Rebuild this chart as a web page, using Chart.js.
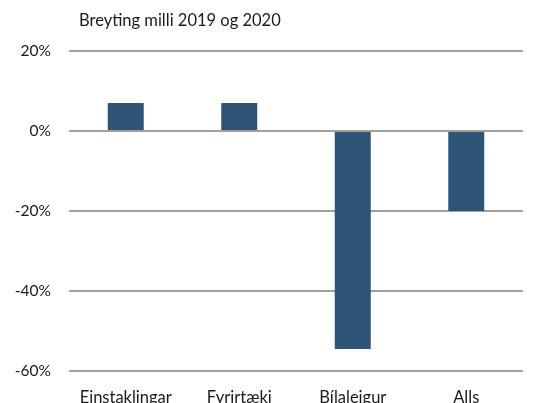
<!DOCTYPE html>
<html>
<head>
<meta charset="utf-8">
<script src="https://cdn.jsdelivr.net/npm/chart.js@4"></script>
<style>
  html, body { margin: 0; padding: 0; background: #fff; }
  #wrap { width: 535px; height: 403px; }
</style>
</head>
<body>
<div id="wrap"><canvas id="chart" width="535" height="403"></canvas></div>
<script>
// gögn
const categories = ["Einstaklingar", "Fyrirtæki", "Bílaleigur", "Alls"];
const changes = [7, 7, -54.5, -20];
const chartTitle = "Breyting milli 2019 og 2020";
const yTicks = [20, 0, -20, -40, -60];

const fontFamily = "Lato, 'Liberation Sans', sans-serif";

// titill teiknaður efst til vinstri
const titlePlugin = {
    id: "cornerTitle",
    afterDraw(chart) {
        const ctx = chart.ctx;
        ctx.save();
        ctx.font = "16.5px " + fontFamily;
        ctx.fillStyle = "#1a1a1a";
        ctx.textAlign = "left";
        ctx.textBaseline = "middle";
        ctx.fillText(chartTitle, 79, 21);
        ctx.restore();
    }
};

new Chart(document.getElementById("chart").getContext("2d"), {
    type: "bar",
    data: {
        labels: categories,
        datasets: [{
            data: changes,
            backgroundColor: "#2f5476",
            borderWidth: 0,
            categoryPercentage: 1,
            barPercentage: 0.317
        }]
    },
    options: {
        responsive: false,
        animation: false,
        layout: { padding: { top: 51, right: 12, left: 0, bottom: 0 } },
        plugins: {
            legend: { display: false },
            tooltip: { enabled: false }
        },
        scales: {
            x: {
                grid: { display: false, drawTicks: false },
                border: { display: false },
                ticks: {
                    color: "#1a1a1a",
                    font: { family: fontFamily, size: 16.5 },
                    padding: 17,
                    maxRotation: 0
                },
                afterFit(scale) { scale.height = 32; }
            },
            y: {
                min: Math.min(...yTicks),
                max: Math.max(...yTicks),
                grid: { color: "#a0a0a0", lineWidth: 2, drawTicks: false },
                border: { display: false },
                ticks: {
                    stepSize: 20,
                    color: "#1a1a1a",
                    padding: 18,
                    font: { family: fontFamily, size: 15.5 },
                    callback: v => v + "%"
                },
                afterFit(scale) { scale.width = 69; }
            }
        }
    },
    plugins: [titlePlugin]
});
</script>
</body>
</html>
